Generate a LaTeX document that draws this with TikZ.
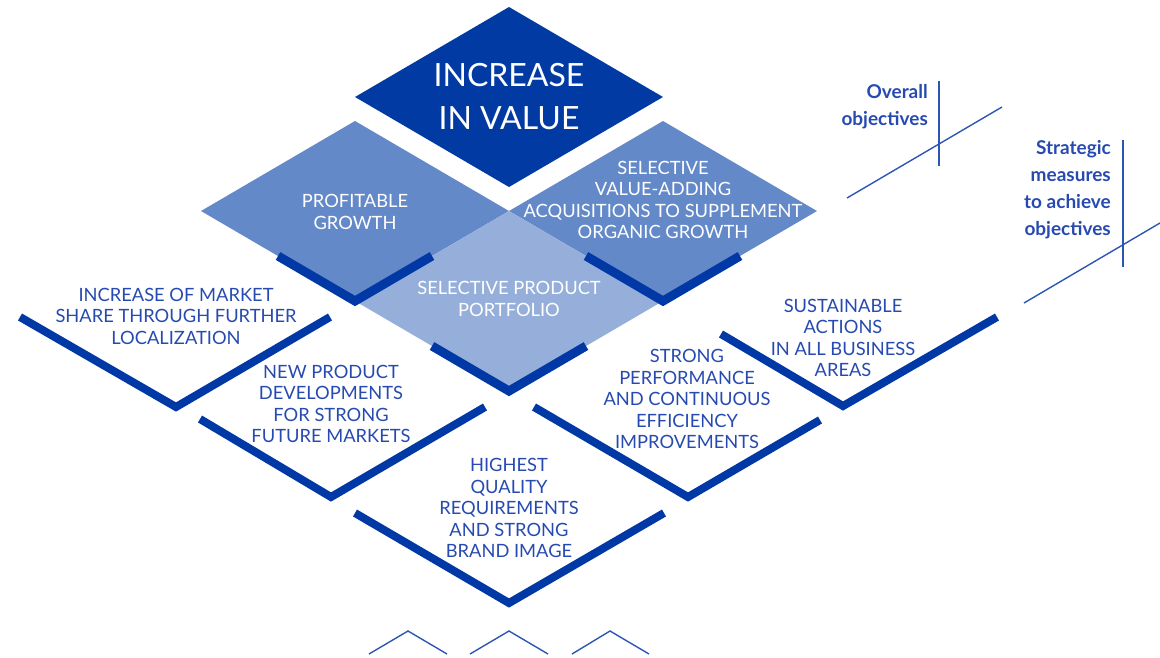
\documentclass[tikz,border=0pt]{standalone}
\usepackage{fontspec}
\setmainfont{Lato}
\definecolor{topblue}{RGB}{0,58,162}
\definecolor{midblue}{RGB}{100,137,200}
\definecolor{lightblue}{RGB}{150,175,218}
\definecolor{bandblue}{RGB}{0,56,165}
\definecolor{txtblue}{RGB}{38,74,176}
\definecolor{thinblue}{RGB}{45,85,180}
\tikzset{
  vline/.style={draw=bandblue, line width=8pt, line join=miter, line cap=butt},
  band/.style={draw=bandblue, line width=9pt, line join=miter, line cap=butt},
  thin/.style={draw=thinblue, line width=1.4pt},
  wtxt/.style={text=white, align=center, inner sep=0pt, font=\fontsize{18.3}{21.5}\selectfont},
  btxt/.style={text=txtblue, align=center, inner sep=0pt, font=\fontsize{18.3}{21.5}\selectfont},
  rtxt/.style={text=txtblue, align=right, inner sep=0pt, anchor=east, font=\fontsize{19}{27}\selectfont\bfseries},
}
\begin{document}
\begin{tikzpicture}[x=1pt,y=-1pt]
\useasboundingbox (0,0) rectangle (1160,657);
% diamonds
\fill[topblue] (355,97) -- (509,7) -- (663,97) -- (509,187) -- cycle;
\fill[midblue] (201,211) -- (355,121) -- (509,211) -- (355,301) -- cycle;
\fill[midblue] (509,211) -- (663,121) -- (817,211) -- (663,301) -- cycle;
\fill[lightblue] (355,301) -- (509,211) -- (663,301) -- (509,391) -- cycle;
% bands
\draw[band] (278,256) -- (355,301) -- (432,256);
\draw[band] (586,256) -- (663,301) -- (740,256);
\draw[band] (432,346) -- (509,391) -- (586,346);
% outline Vs
\draw[vline] (20,317) -- (176,407) -- (330,317);
\draw[vline] (200,419) -- (331,497) -- (485,407);
\draw[vline] (355,513) -- (509,603) -- (664,513);
\draw[vline] (534,407) -- (688,497) -- (820,420);
\draw[vline] (721,334) -- (843,406) -- (997,317);
% bottom chevrons
\draw[thin] (369,654) -- (408,631) -- (447,654);
\draw[thin] (470,654) -- (509,631) -- (548,654);
\draw[thin] (572,654) -- (610,631) -- (649,654);
% right side guides
\draw[thin] (939,81) -- (939,166);
\draw[thin] (847,198) -- (1002,107);
\draw[thin] (1123,140) -- (1123,267);
\draw[thin] (1024,303) -- (1160,223);
% texts
\node[text=white, align=center, inner sep=0pt, font=\fontsize{32}{43}\selectfont] (top) at (509,97) {INCREASE\\IN VALUE};
\node[wtxt] (pg) at (355,212) {PROFITABLE\\GROWTH};
\node[wtxt] (acq) at (663,200) {SELECTIVE\\VALUE-ADDING\\ACQUISITIONS TO SUPPLEMENT\\ORGANIC GROWTH};
\node[wtxt] (spp) at (509,299) {SELECTIVE PRODUCT\\PORTFOLIO};
\node[btxt] (m1) at (176,316) {INCREASE OF MARKET\\SHARE THROUGH FURTHER\\LOCALIZATION};
\node[btxt] (m2) at (331,404) {NEW PRODUCT\\DEVELOPMENTS\\FOR STRONG\\FUTURE MARKETS};
\node[btxt] (m3) at (509,508) {HIGHEST\\QUALITY\\REQUIREMENTS\\AND STRONG\\BRAND IMAGE};
\node[btxt] (m4) at (687,399) {STRONG\\PERFORMANCE\\AND CONTINUOUS\\EFFICIENCY\\IMPROVEMENTS};
\node[btxt] (m5) at (843,338) {SUSTAINABLE\\ACTIONS\\IN ALL BUSINESS\\AREAS};
\node[rtxt] (oo) at (928,107) {Overall\\objectives};
\node[rtxt] (sm) at (1111,190) {Strategic\\measures\\to achieve\\objectives};
\end{tikzpicture}
\end{document}
